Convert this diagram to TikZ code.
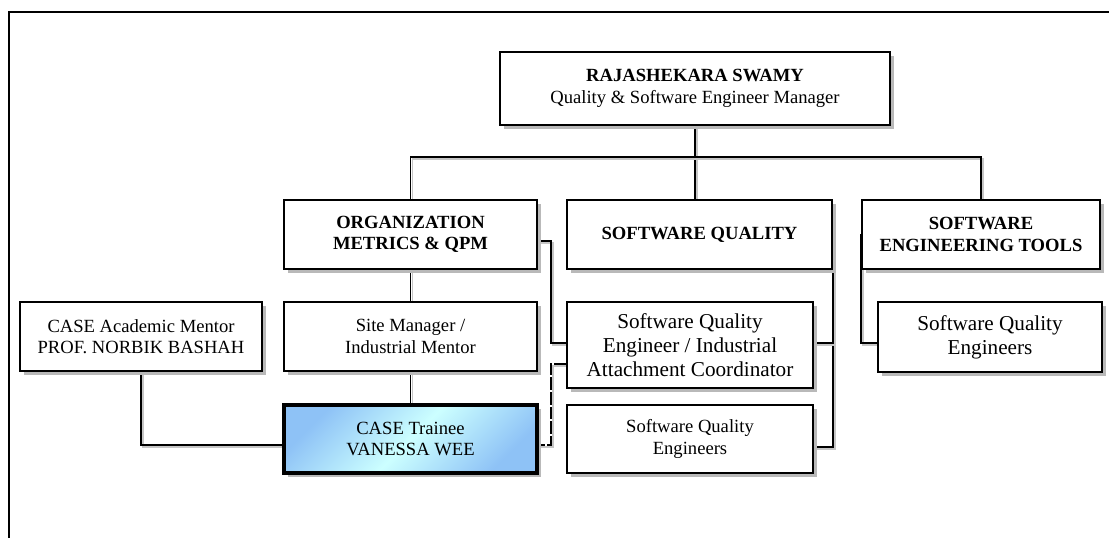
\documentclass[tikz,border=0pt]{standalone}
\usepackage{fontspec}
\setmainfont{Liberation Serif}
\usetikzlibrary{shadows,backgrounds}
\definecolor{tblue}{HTML}{8EC2F6}
\definecolor{tcyan}{HTML}{CCFFFF}
\begin{document}
\begin{tikzpicture}[x=0.75pt,y=-0.75pt,
  sz/.style 2 args={minimum width=#1*0.75pt, minimum height=#2*0.75pt},
  box/.style={draw, line width=1.4pt, fill=white, align=center, inner sep=1pt,
    drop shadow={shadow xshift=3pt, shadow yshift=-3pt, fill=gray!55, opacity=1},
    font=\fontsize{13.95}{16}\selectfont},
  bigbox/.style={box, font=\fontsize{15.9}{18}\selectfont},
  conn/.style={line width=1.4pt, line cap=rect,
    preaction={draw=gray!45, line width=1.4pt, transform canvas={shift={(1.5pt,-1.5pt)}}}},
  dconn/.style={conn, dash pattern=on 8pt off 3pt},
  frame/.style={line width=1.8pt}
]
\useasboundingbox (0,0) rectangle (1109,538);
\draw[frame] (1109,12) -- (9,12) -- (9,538);

\node[box, sz={390}{73}] (top) at (695,88.5) {\textbf{RAJASHEKARA SWAMY}\\Quality \& Software Engineer Manager};
\node[box, sz={253}{69}] (org) at (410.5,234.5) {\textbf{ORGANIZATION}\\\textbf{METRICS \& QPM}};
\node[box, sz={265}{69}] (sq) at (699.5,234.5) {\textbf{SOFTWARE QUALITY}};
\node[box, sz={238}{69}] (set) at (981,234.5) {\textbf{SOFTWARE}\\\textbf{ENGINEERING TOOLS}};
\node[box, sz={242}{69}] (acad) at (141,336.5) {CASE Academic Mentor\\PROF. NORBIK BASHAH};
\node[box, sz={253}{69}] (site) at (410.5,336.5) {Site Manager /\\Industrial Mentor};
\node[bigbox, sz={246}{86}] (sqe) at (690,345) {Software Quality\\Engineer / Industrial\\Attachment Coordinator};
\node[bigbox, sz={224}{70}] (sqe3) at (990,337) {Software Quality\\Engineers};
\node[box, sz={253}{68}, line width=3pt, top color=tblue, bottom color=tblue, middle color=tcyan, shading angle=45] (trainee) at (410.5,439) {CASE Trainee\\VANESSA WEE};
\node[box, sz={246}{68}] (sqe2) at (690,439) {Software Quality\\Engineers};

\coordinate (bus) at (0,157);
\coordinate (low) at (0,445);
\coordinate (low2) at (0,447);
\coordinate (j1) at (551,241);
\coordinate (d1) at (551,364);
\coordinate (j3) at (0,343);

\begin{pgfonlayer}{background}
\draw[conn] (top.south) -- (top.south |- sq.north);
\draw[conn] (org.north) -- (org.north |- bus) -- (set.north |- bus) -- (set.north);
\draw[conn] (org.south) -- (site.north);
\draw[conn] (site.south) -- (trainee.north);
\draw[conn] (acad.south) -- (acad.south |- low) -- (trainee.west |- low);
\draw[conn] (org.east |- j1) -- (j1) -- (j1 |- j3) -- (sqe.west |- j3);
\draw[dconn] (sqe.west |- d1) -- (d1) -- (d1 |- low) -- (trainee.east |- low);
\draw[conn] (sq.south east) -- (sq.south east |- low2) -- (sqe2.east |- low2);
\draw[conn] (sq.south east |- j3) -- (sqe.east |- j3);
\draw[conn] (set.west) -- (set.west |- j3) -- (sqe3.west |- j3);
\end{pgfonlayer}
\end{tikzpicture}
\end{document}
